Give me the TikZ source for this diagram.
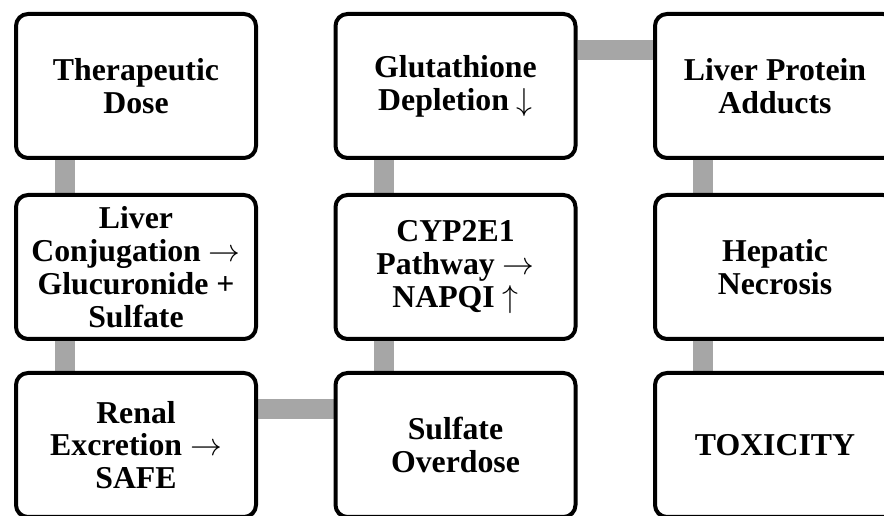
\RequirePackage{fix-cm}
\documentclass[tikz,border=0pt]{standalone}
\usepackage{fontspec}
\setmainfont{Liberation Serif}
\usetikzlibrary{backgrounds}
\newcommand{\myra}{$\rightarrow$}
\newcommand{\myup}{$\uparrow$}
\newcommand{\mydown}{$\downarrow$}
\tikzset{
  stepbox/.style={draw=black, fill=white, line width=4pt, rounded corners=12pt,
    minimum width=240pt, minimum height=144pt, align=center, inner sep=0pt,
    font=\fontsize{31.8}{32.8}\selectfont\bfseries},
  conn/.style={draw=black!35, line width=20pt}
}
\begin{document}
\begin{tikzpicture}[x=1pt,y=1pt]
\useasboundingbox (0,0) rectangle (884,516);
\node[stepbox] (a) at (136,430) {Therapeutic\\Dose};
\node[stepbox] (b) at (136,249) {Liver\\Conjugation \myra\\Glucuronide +\\Sulfate};
\node[stepbox] (c) at (136,71) {Renal\\Excretion \myra\\SAFE};
\node[stepbox] (d) at (455.5,71) {Sulfate\\Overdose};
\node[stepbox] (e) at (455.5,249) {CYP2E1\\Pathway \myra\\NAPQI \myup};
\node[stepbox] (f) at (455.5,430) {Glutathione\\Depletion \mydown};
\node[stepbox] (g) at (775,430) {Liver Protein\\Adducts};
\node[stepbox] (h) at (775,249) {Hepatic\\Necrosis};
\node[stepbox] (i) at (775,71) {TOXICITY};
\begin{scope}[on background layer]
\draw[conn] ([xshift=-71pt]a.south) -- ([xshift=-71pt]b.north);
\draw[conn] ([xshift=-71pt]b.south) -- ([xshift=-71pt]c.north);
\draw[conn] ([yshift=36pt]c.east) -- ([yshift=36pt]d.west);
\draw[conn] ([xshift=-72pt]d.north) -- ([xshift=-72pt]e.south);
\draw[conn] ([xshift=-72pt]e.north) -- ([xshift=-72pt]f.south);
\draw[conn] ([yshift=36pt]f.east) -- ([yshift=36pt]g.west);
\draw[conn] ([xshift=-72pt]g.south) -- ([xshift=-72pt]h.north);
\draw[conn] ([xshift=-72pt]h.south) -- ([xshift=-72pt]i.north);
\end{scope}
\end{tikzpicture}
\end{document}
